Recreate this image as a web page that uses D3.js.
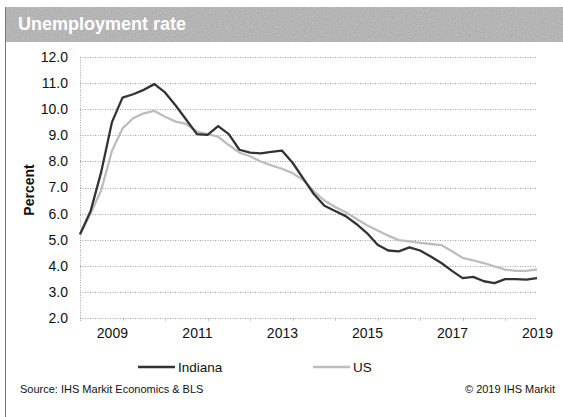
<!DOCTYPE html>
<html>
<head>
<meta charset="utf-8">
<script src="https://cdn.jsdelivr.net/npm/d3@7"></script>
<style>
  html, body { margin: 0; padding: 0; background: #fff; }
  svg { display: block; font-family: "Liberation Sans", Arial, sans-serif; }
</style>
</head>
<body>
<svg id="chart" width="563" height="417"></svg>
<script>
// Quarterly periods, 2008Q2 .. 2019Q1
const quarters = [];
for (let y = 2008; y <= 2019; y++) {
  for (let q = 1; q <= 4; q++) {
    const key = y + "Q" + q;
    if ((y === 2008 && q < 2) || (y === 2019 && q > 1)) continue;
    quarters.push(key);
  }
}

// Unemployment rate, percent
const indiana = [
  5.2, 6.1, 7.6, 9.5, 10.45, 10.58, 10.75, 10.97, 10.65, 10.15,
  9.6, 9.05, 9.02, 9.36, 9.05, 8.45, 8.34, 8.31, 8.37, 8.42,
  7.95, 7.35, 6.75, 6.3, 6.1, 5.9, 5.6, 5.25, 4.8, 4.58,
  4.55, 4.7, 4.58, 4.35, 4.1, 3.8, 3.52, 3.57, 3.4, 3.33,
  3.48, 3.48, 3.46, 3.52
];
const us = [
  5.2, 6.0, 6.9, 8.4, 9.27, 9.66, 9.85, 9.94, 9.72, 9.53,
  9.44, 9.15, 9.05, 8.95, 8.63, 8.34, 8.2, 8.0, 7.85, 7.72,
  7.55, 7.29, 6.85, 6.5, 6.25, 6.05, 5.8, 5.55, 5.35, 5.15,
  4.98, 4.93, 4.87, 4.83, 4.79, 4.55, 4.3, 4.2, 4.1, 3.97,
  3.85, 3.8, 3.8, 3.86
];

const yearLabels = ["2009", "2011", "2013", "2015", "2017", "2019"];
const yTicks = [2, 3, 4, 5, 6, 7, 8, 9, 10, 11, 12];

const series = [
  { name: "Indiana", values: indiana, color: "#333333" },
  { name: "US", values: us, color: "#bdbdbd" }
];

const svg = d3.select("#chart");

// Title band with a grainy gray fill
const defs = svg.append("defs");
const grain = defs.append("filter").attr("id", "grain")
  .attr("x", 0).attr("y", 0).attr("width", "100%").attr("height", "100%");
grain.append("feTurbulence").attr("type", "fractalNoise")
  .attr("baseFrequency", 0.9).attr("numOctaves", 2).attr("seed", 3).attr("result", "noise");
grain.append("feColorMatrix").attr("in", "noise").attr("type", "matrix")
  .attr("values", "0.5 0.5 0 0 0.3  0.5 0.5 0 0 0.3  0.5 0.5 0 0 0.3  0 0 0 0 1")
  .attr("result", "speck");
grain.append("feComposite").attr("in", "speck").attr("in2", "SourceGraphic").attr("operator", "in");

svg.append("rect").attr("x", 5).attr("y", 7).attr("width", 558).attr("height", 35)
  .attr("fill", "#9a9a9a");
svg.append("rect").attr("x", 5).attr("y", 7).attr("width", 558).attr("height", 35)
  .attr("fill", "#9a9a9a").attr("filter", "url(#grain)").attr("opacity", 0.35);
svg.append("text").attr("x", 18).attr("y", 30)
  .attr("font-size", 18).attr("font-weight", "bold").attr("fill", "#fff")
  .text("Unemployment rate");

// Frame edge on the left
svg.append("line").attr("x1", 5.5).attr("x2", 5.5).attr("y1", 7).attr("y2", 417)
  .attr("stroke", "#777").attr("stroke-width", 1);

// Scales
const x = d3.scaleLinear().domain([0, quarters.length - 1]).range([80, 537]);
const y = d3.scaleLinear().domain([2, 12]).range([317.7, 57.3]);

// Horizontal gridlines + y axis labels
const yAxis = d3.axisLeft(y).tickValues(yTicks).tickSize(0).tickPadding(12)
  .tickFormat(d3.format(".1f"));
const gy = svg.append("g").attr("transform", "translate(80,0)").call(yAxis);
gy.select(".domain").remove();
gy.selectAll("text").attr("font-size", 14).attr("fill", "#111")
  .attr("font-family", "Liberation Sans, Arial, sans-serif");

svg.append("g").selectAll("line").data(yTicks).join("line")
  .attr("x1", 80).attr("x2", 537)
  .attr("y1", d => Math.round(y(d)) + 0.5).attr("y2", d => Math.round(y(d)) + 0.5)
  .attr("stroke", "#a0a0a0").attr("stroke-width", 1).attr("stroke-dasharray", "1,1.5");

// Left axis line
svg.append("line").attr("x1", 80.5).attr("x2", 80.5).attr("y1", y(12)).attr("y2", y(2) + 3)
  .attr("stroke", "#a0a0a0").attr("stroke-dasharray", "1,1.5");

// X axis: small ticks every four quarters, labels at Q1 of odd years
const tickIdx = quarters.map((q, i) => i).filter(i => i > 0 && i % 4 === 0);
svg.append("g").selectAll("line").data(tickIdx).join("line")
  .attr("x1", d => Math.round(x(d)) + 0.5).attr("x2", d => Math.round(x(d)) + 0.5)
  .attr("y1", y(2)).attr("y2", y(2) + 3)
  .attr("stroke", "#bbb");

const xAxis = d3.axisBottom(x)
  .tickValues(yearLabels.map(l => quarters.indexOf(l + "Q1")))
  .tickFormat(i => quarters[i].slice(0, 4))
  .tickSize(0).tickPadding(10);
const gx = svg.append("g").attr("transform", `translate(0,${y(2)})`).call(xAxis);
gx.select(".domain").remove();
gx.selectAll("text").attr("font-size", 14).attr("fill", "#111")
  .attr("font-family", "Liberation Sans, Arial, sans-serif");

// Y axis title
svg.append("text").attr("transform", "translate(34,190) rotate(-90)")
  .attr("text-anchor", "middle").attr("font-size", 14).attr("font-weight", "bold")
  .attr("fill", "#111").text("Percent");

// Lines (US drawn first, Indiana on top)
const line = d3.line().x((d, i) => x(i)).y(d => y(d)).curve(d3.curveLinear);
svg.append("g").selectAll("path").data(series.slice().reverse()).join("path")
  .attr("d", s => line(s.values))
  .attr("fill", "none").attr("stroke", s => s.color)
  .attr("stroke-width", 2.3).attr("stroke-linejoin", "round");

// Legend
const legendX = [138, 313];
const lg = svg.append("g").selectAll("g").data(series).join("g")
  .attr("transform", (s, i) => `translate(${legendX[i]},367)`);
lg.append("line").attr("x1", 0).attr("x2", 37).attr("y1", 0).attr("y2", 0)
  .attr("stroke", s => s.color).attr("stroke-width", 2.3);
lg.append("text").attr("x", 40).attr("y", 5).attr("font-size", 13.5).attr("fill", "#111")
  .text(s => s.name);

// Footer
svg.append("text").attr("x", 20).attr("y", 393).attr("font-size", 11).attr("fill", "#111")
  .text("Source: IHS Markit Economics & BLS");
svg.append("text").attr("x", 555).attr("y", 393).attr("text-anchor", "end")
  .attr("font-size", 11).attr("fill", "#111")
  .text("\u00a9 2019 IHS Markit");
</script>
</body>
</html>
